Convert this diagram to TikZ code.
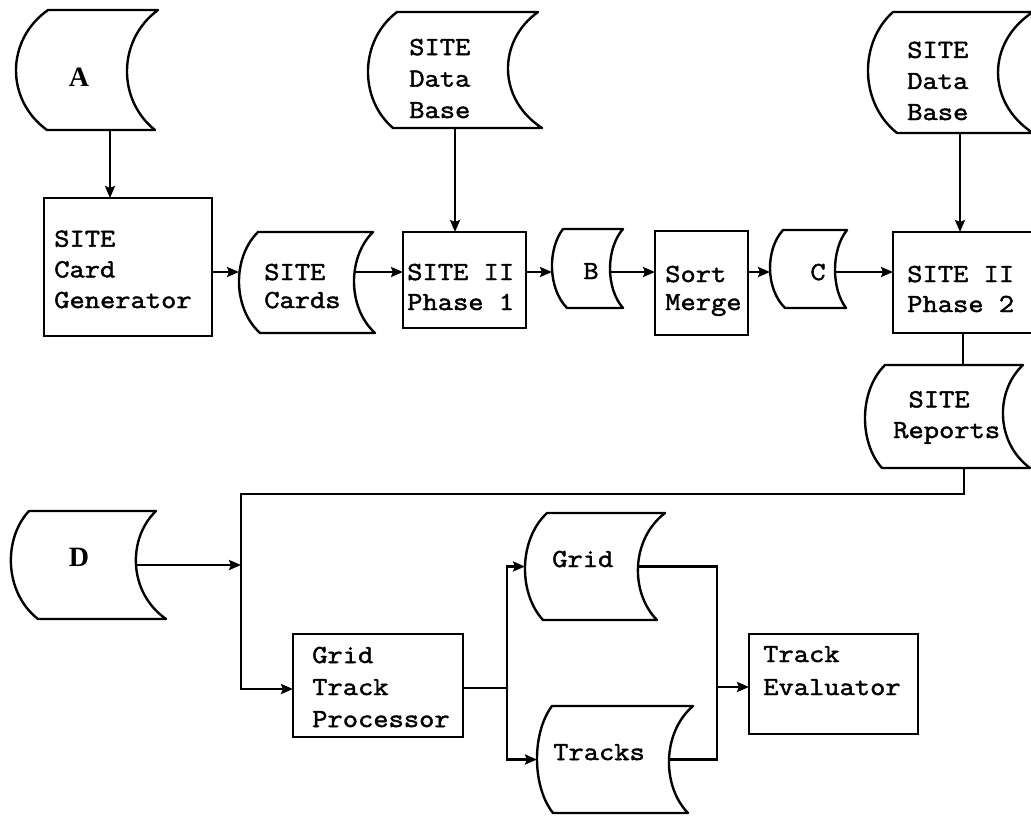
\documentclass[tikz,border=0pt]{standalone}
\usepackage{fontspec}
\setmainfont{Liberation Serif}
\newfontfamily\tw{Latin Modern Mono}[FakeStretch=1.14,FakeBold=1.8]
\usetikzlibrary{arrows.meta,calc}
\newcommand\tape[9]{%
 \pgfmathsetmacro\tpmid{(#2+#3)/2}%
 \pgfmathsetmacro\tph{#3-#2}%
 \pgfmathsetmacro\tprc{(8*#9-#7-#8)/6}%
 \pgfmathsetmacro\tplc{(8*#6-#4-#5)/6}%
 \draw[ln,line join=round] (#4,#2) -- (#7,#2) .. controls (\tprc,{#2+0.25*\tph}) and (\tprc,{#3-0.25*\tph}) .. (#8,#3) -- (#5,#3) .. controls (\tplc,{#3-0.25*\tph}) and (\tplc,{#2+0.25*\tph}) .. cycle;
 \coordinate (#1-l) at (#6,\tpmid);
 \coordinate (#1-r) at (#9,\tpmid);
}
\newcommand\pbox[5]{\node[box,minimum width={(#4-#2)*0.75pt},minimum height={(#5-#3)*0.75pt}] (#1) at ({(#2+#4)/2},{(#3+#5)/2}) {};}
\begin{document}
\begin{tikzpicture}[x=0.75pt,y=-0.75pt,
 ln/.style={line width=1.8pt},
 arr/.style={ln,-{Stealth[length=9pt,width=7.5pt,inset=1.5pt]}},
 box/.style={draw,ln,rectangle,inner sep=0pt,outer sep=0pt},
 txt/.style={font=\tw\fontsize{19.5}{23}\selectfont, align=left, inner sep=0pt, anchor=base west},
 lab/.style={font=\bfseries\fontsize{21}{24}\selectfont, inner sep=0pt}]
\useasboundingbox (0,0) rectangle (1031,815);
\clip (0,0) rectangle (1031,815);

\tape{A}{10}{130}{48}{47}{16}{158}{155}{127}
\node[lab] (A-t) at (79,77) {A};
\coordinate (A-b) at (110,130);

\pbox{cg}{44}{198}{212}{336}
\node[txt] (cg-t) at (54,308) {SITE\\Card\\Generator};

\tape{Cards}{232}{333}{258}{260}{239}{373}{375}{354}
\node[txt,font=\tw\fontsize{19.5}{21}\selectfont] (Cards-t) at (264,308) {SITE\\Cards};

\tape{DB1}{12}{128}{397}{393}{368}{538}{542}{508}
\node[txt,font=\tw\fontsize{19.5}{23.6}\selectfont] (DB1-t) at (409,118) {SITE\\Data\\Base};
\coordinate (DB1-b) at (455,128);

\pbox{p1}{403}{232}{526}{328}
\node[txt,font=\tw\fontsize{19.5}{22.5}\selectfont] (p1-t) at (407,310) {SITE II\\Phase 1};

\tape{B}{229}{308}{563}{567}{552}{623}{623}{610}
\node[txt,anchor=base] (B-t) at (591,279) {B};

\pbox{sm}{655}{231}{748}{335}
\node[txt,font=\tw\fontsize{19.5}{21}\selectfont] (sm-t) at (665,310) {Sort\\Merge};

\tape{C}{230}{308}{783}{785}{770}{847}{846}{835}
\node[txt,anchor=base] (C-t) at (818,280) {C};

\tape{DB2}{12}{133}{893}{897}{868}{1033}{1033}{998}
\node[txt,font=\tw\fontsize{19.5}{23.3}\selectfont] (DB2-t) at (907,120) {SITE\\Data\\Base};
\coordinate (DB2-b) at (960,133);

\pbox{p2}{893}{232}{1036}{333}
\node[txt,font=\tw\fontsize{19.5}{22.5}\selectfont] (p2-t) at (907,312) {SITE II\\Phase 2};

\tape{Rep}{365}{468}{885}{882}{865}{1023}{1030}{1003}
\node[txt] (Rep-t) at (893,438) {\phantom{R}SITE\\Reports};
\coordinate (Rep-top) at (963,365);
\coordinate (Rep-b) at (964,468);

\tape{D}{511}{619}{29}{38}{11}{156}{166}{136}
\node[lab] (D-t) at (79,557) {D};

\pbox{gtp}{293}{634}{463}{737}
\node[txt,font=\tw\fontsize{19.5}{24}\selectfont] (gtp-t) at (312,727) {Grid\\Track\\Processor};

\tape{Grid}{513}{620}{547}{543}{525}{665}{657}{638}
\node[txt] (Grid-t) at (552,567) {Grid};

\tape{Tracks}{706}{813}{552}{553}{537}{693}{688}{669}
\node[txt] (Tracks-t) at (553,760) {Tracks};

\pbox{te}{749}{634}{918}{734}
\node[txt,font=\tw\fontsize{19.5}{24.75}\selectfont] (te-t) at (763,695) {Track\\Evaluator};

\coordinate (row) at (0,272);
\coordinate (j1) at (241,494);
\coordinate (j2) at (241,689);
\coordinate (s) at (507,688);
\coordinate (m) at (717,687);

\draw[arr] (A-b) -- (A-b |- cg.north);
\draw[arr] (cg.east |- row) -- (Cards-l |- row);
\draw[arr] (Cards-r |- row) -- (p1.west |- row);
\draw[arr] (DB1-b) -- (DB1-b |- p1.north);
\draw[arr] (p1.east |- row) -- (B-l |- row);
\draw[arr] (B-r |- row) -- (sm.west |- row);
\draw[arr] (sm.east |- row) -- (C-l |- row);
\draw[arr] (C-r |- row) -- (p2.west |- row);
\draw[arr] (DB2-b) -- (DB2-b |- p2.north);
\draw[ln] (Rep-top |- p2.south) -- (Rep-top);
\draw[arr] (Rep-b) |- (j1) -- (j2) -- (j2 -| gtp.west);
\draw[arr] (D-r) -- (D-r -| j1);
\draw[ln] (gtp.east |- s) -- (s);
\draw[arr] (s) |- (Grid-l);
\draw[arr] (s) |- (Tracks-l);
\draw[ln] (Grid-r) -| (m);
\draw[ln] (Tracks-r) -| (m);
\draw[arr] (m) -- (m -| te.west);
\end{tikzpicture}
\end{document}
